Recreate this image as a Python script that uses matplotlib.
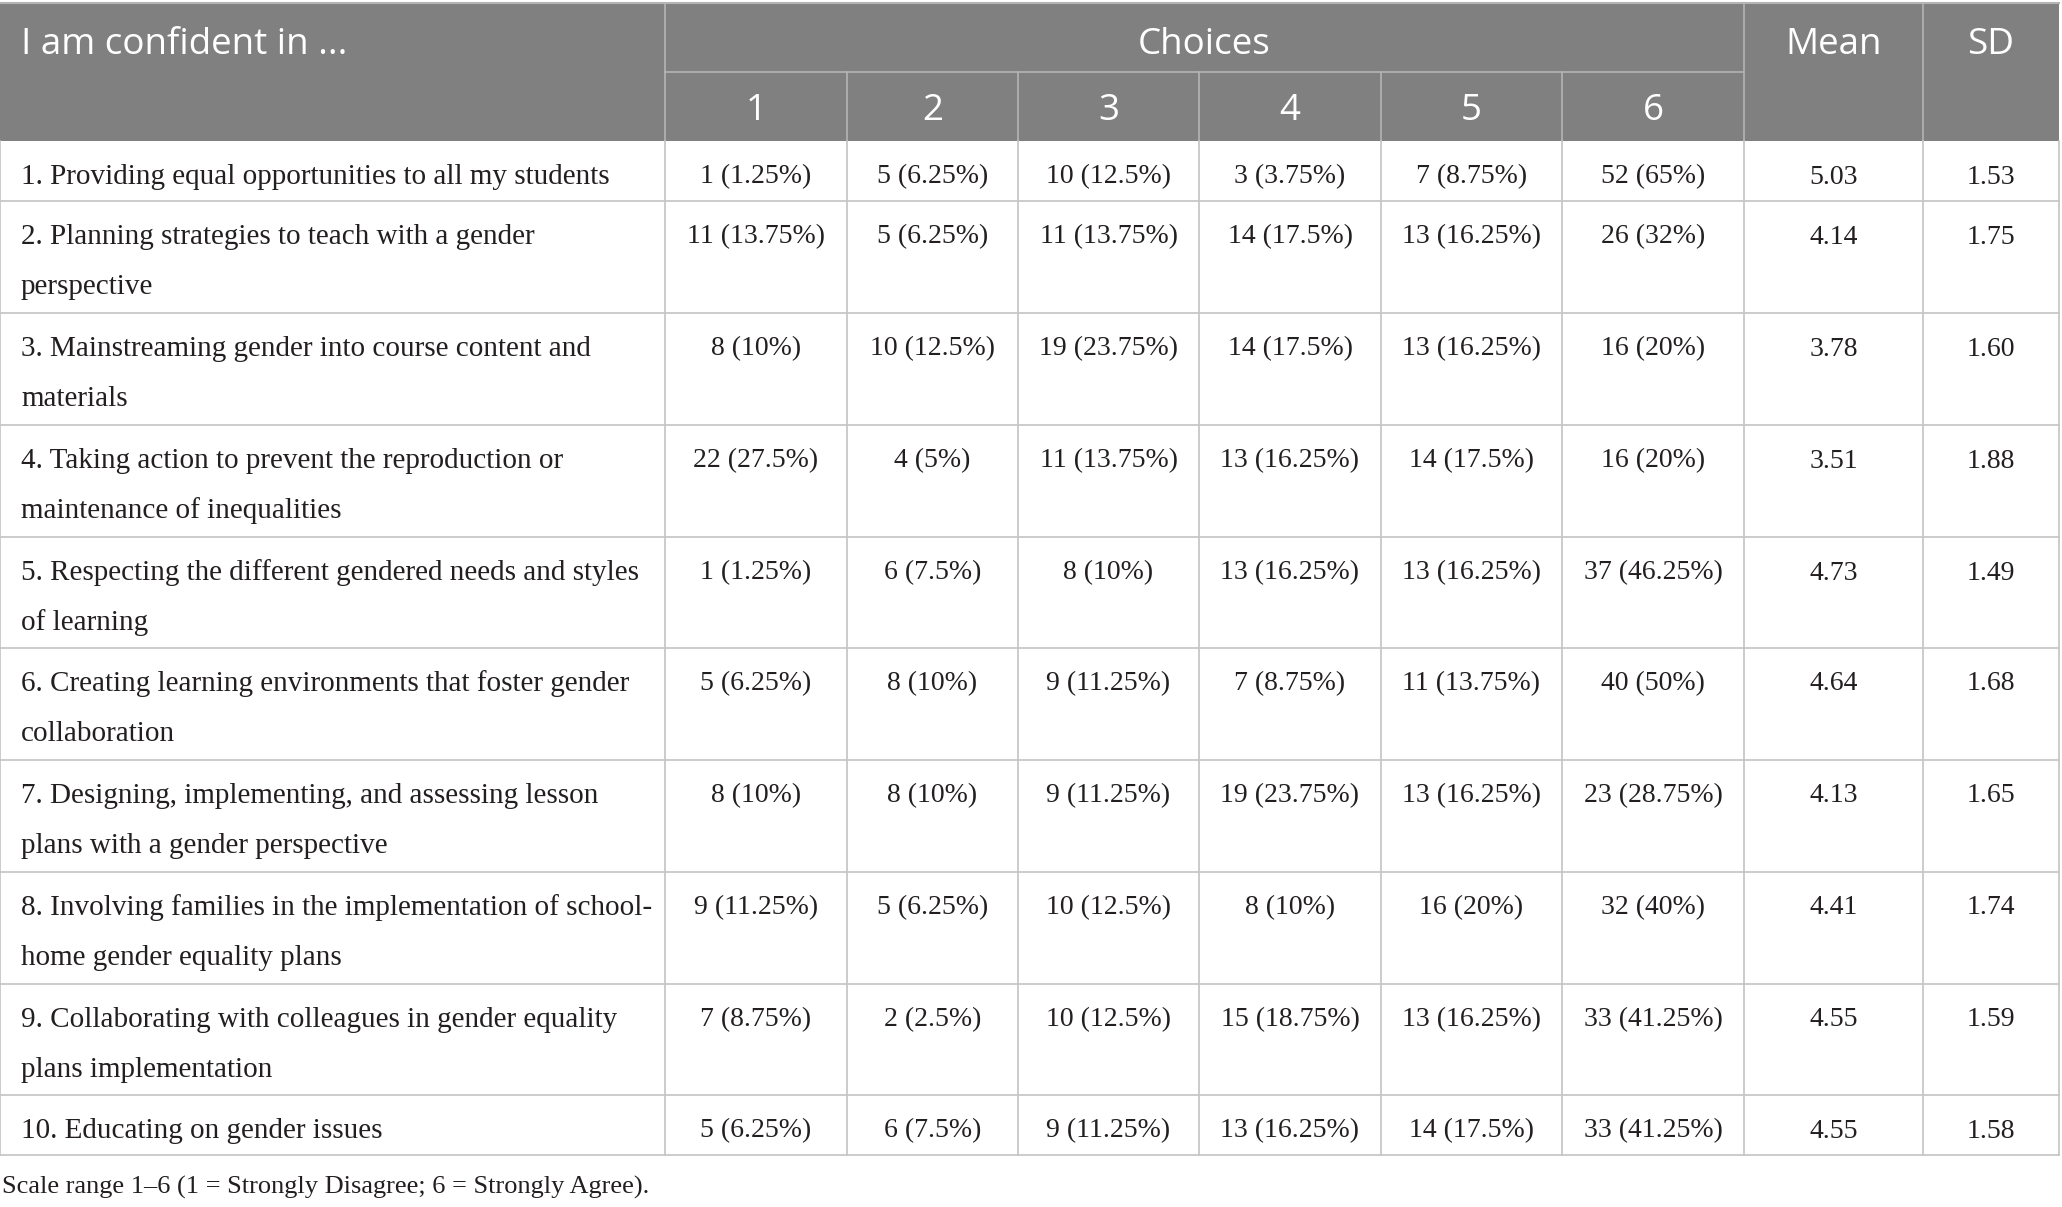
import matplotlib.pyplot as plt
from matplotlib.patches import Rectangle

items = [
    "1. Providing equal opportunities to all my students",
    "2. Planning strategies to teach with a gender\nperspective",
    "3. Mainstreaming gender into course content and\nmaterials",
    "4. Taking action to prevent the reproduction or\nmaintenance of inequalities",
    "5. Respecting the different gendered needs and styles\nof learning",
    "6. Creating learning environments that foster gender\ncollaboration",
    "7. Designing, implementing, and assessing lesson\nplans with a gender perspective",
    "8. Involving families in the implementation of school-\nhome gender equality plans",
    "9. Collaborating with colleagues in gender equality\nplans implementation",
    "10. Educating on gender issues",
]
counts = [
    [1, 5, 10, 3, 7, 52],
    [11, 5, 11, 14, 13, 26],
    [8, 10, 19, 14, 13, 16],
    [22, 4, 11, 13, 14, 16],
    [1, 6, 8, 13, 13, 37],
    [5, 8, 9, 7, 11, 40],
    [8, 8, 9, 19, 13, 23],
    [9, 5, 10, 8, 16, 32],
    [7, 2, 10, 15, 13, 33],
    [5, 6, 9, 13, 14, 33],
]
percents = [
    ["1.25", "6.25", "12.5", "3.75", "8.75", "65"],
    ["13.75", "6.25", "13.75", "17.5", "16.25", "32"],
    ["10", "12.5", "23.75", "17.5", "16.25", "20"],
    ["27.5", "5", "13.75", "16.25", "17.5", "20"],
    ["1.25", "7.5", "10", "16.25", "16.25", "46.25"],
    ["6.25", "10", "11.25", "8.75", "13.75", "50"],
    ["10", "10", "11.25", "23.75", "16.25", "28.75"],
    ["11.25", "6.25", "12.5", "10", "20", "40"],
    ["8.75", "2.5", "12.5", "18.75", "16.25", "41.25"],
    ["6.25", "7.5", "11.25", "16.25", "17.5", "41.25"],
]
means = [5.03, 4.14, 3.78, 3.51, 4.73, 4.64, 4.13, 4.41, 4.55, 4.55]
sds = [1.53, 1.75, 1.60, 1.88, 1.49, 1.68, 1.65, 1.74, 1.59, 1.58]
choices = ["1", "2", "3", "4", "5", "6"]
note = "Scale range 1–6 (1 = Strongly Disagree; 6 = Strongly Agree)."

W, H = 2062, 1207
fig = plt.figure(figsize=(W / 100, H / 100), dpi=100)
ax = fig.add_axes([0, 0, 1, 1])
ax.set_xlim(0, W)
ax.set_ylim(H, 0)
ax.axis("off")

col_x = [0, 665, 847, 1018, 1199, 1381, 1562, 1744, 1923, 2059]
row_y = [141, 201, 313, 425, 537, 648, 760, 872, 984, 1095, 1155]
hdr_top, hdr_mid = 3, 72

head_font = "Open Sans"
body_font = "Liberation Serif"
grey = "#808080"
hline = "#b4b4b4"
gline = "#c4c4c4"
txt = "#231f20"

# header block
ax.add_patch(Rectangle((0, hdr_top), col_x[-1], row_y[0] - hdr_top, color=grey, lw=0))
ax.plot([0, col_x[-1]], [hdr_top, hdr_top], color=hline, lw=1.5)
for x in [col_x[1], col_x[7], col_x[8]]:
    ax.plot([x, x], [hdr_top, row_y[0]], color=hline, lw=1.2)
for x in col_x[2:7]:
    ax.plot([x, x], [hdr_mid, row_y[0]], color=hline, lw=1.2)
ax.plot([col_x[1], col_x[7]], [hdr_mid, hdr_mid], color=hline, lw=1.2)

hs = 26.5
ax.text(21, 45, "I am confident in ...", color="white", fontsize=hs, family=head_font, va="center")
ax.text((col_x[1] + col_x[7]) / 2, 45, "Choices", color="white", fontsize=hs, family=head_font,
        va="center", ha="center")
ax.text((col_x[7] + col_x[8]) / 2, 45, "Mean", color="white", fontsize=hs, family=head_font,
        va="center", ha="center")
ax.text((col_x[8] + col_x[9]) / 2, 45, "SD", color="white", fontsize=hs, family=head_font,
        va="center", ha="center")
for i, c in enumerate(choices):
    ax.text((col_x[i + 1] + col_x[i + 2]) / 2, 111, c, color="white", fontsize=hs,
            family=head_font, va="center", ha="center")

# body grid
for y in row_y[1:]:
    ax.plot([0, col_x[-1]], [y, y], color=gline, lw=1.2)
for x in col_x:
    ax.plot([x, x], [row_y[0], row_y[-1]], color=gline, lw=1.2)

bs = 21
ns = 20
for r in range(len(items)):
    top = row_y[r]
    lines = items[r].split("\n")
    for k, ln in enumerate(lines):
        ax.text(21, top + 36 + 50 * k, ln, fontsize=bs, family=body_font, color=txt, va="center")
    cells = [f"{counts[r][j]} ({percents[r][j]}%)" for j in range(6)]
    cells += [f"{means[r]:.2f}", f"{sds[r]:.2f}"]
    for j, s in enumerate(cells):
        ax.text((col_x[j + 1] + col_x[j + 2]) / 2, top + 36, s, fontsize=ns, family=body_font,
                color=txt, va="center", ha="center")

ax.text(2, 1187, note, fontsize=19, family=body_font, color=txt, va="center")

fig.savefig("out.png", dpi=100)
